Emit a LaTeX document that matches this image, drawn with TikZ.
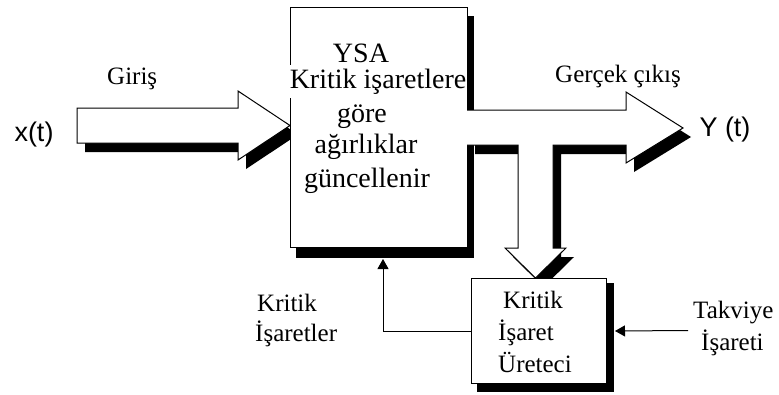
\documentclass[tikz,border=0pt]{standalone}
\usepackage{fontspec}
\setmainfont{Liberation Serif}
\setsansfont{Liberation Sans}
\usetikzlibrary{arrows.meta}

\tikzset{
  outline/.style={draw=black, line width=1pt, line join=miter},
  blockfill/.style={fill=white},
  shadowfill/.style={fill=black},
  blocktext/.style={font=\fontsize{28}{33}\selectfont, inner sep=0pt},
  labeltext/.style={font=\fontsize{25}{30}\selectfont, inner sep=0pt},
  signaltext/.style={font=\sffamily\fontsize{27}{32}\selectfont, inner sep=0pt},
  thinarrow/.style={draw=black, line width=1pt, -{Triangle[length=10pt,width=11pt]}},
}

\begin{document}
\begin{tikzpicture}[x=1pt, y=-1pt]
  \useasboundingbox (0,0) rectangle (779,394);

  % ---- input arrow x(t) -> network ----
  \fill[shadowfill, shift={(8,9)}]
    (77,108) -- (238,108) -- (238,91) -- (290,125.5) -- (238,160) -- (238,143) -- (77,143) -- cycle;
  \path[outline, blockfill]
    (77,108) -- (238,108) -- (238,91) -- (290,125.5) -- (238,160) -- (238,143) -- (77,143) -- cycle;

  % ---- network block with its shadow ----
  \fill[shadowfill] (296,16) rectangle (474,258);
  \node[outline, blockfill, anchor=north west, minimum width=177pt, minimum height=240pt,
        inner sep=0pt] (ysa) at (290,7) {};

  % ---- output arrow with branch down to the critic ----
  \fill[shadowfill, shift={(8,9)}]
    (467,110) -- (626,110) -- (626,92) -- (683,128) -- (626,163) -- (626,145) --
    (553,145) -- (553,248) -- (566,248) -- (535.5,278) -- (505,248) -- (518,248) --
    (518,145) -- (467,145) -- cycle;
  \fill[blockfill]
    (466,110) -- (626,110) -- (626,92) -- (683,128) -- (626,163) -- (626,145) --
    (553,145) -- (553,248) -- (566,248) -- (535.5,278) -- (505,248) -- (518,248) --
    (518,145) -- (466,145) -- cycle;
  \draw[outline]
    (467,110) -- (626,110) -- (626,92) -- (683,128) -- (626,163) -- (626,145) --
    (553,145) -- (553,248) -- (566,248) -- (535.5,278) -- (505,248) -- (518,248) --
    (518,145) -- (467,145);

  % ---- critic block with its shadow ----
  \fill[shadowfill] (477,283) rectangle (614,392);
  \node[outline, blockfill, anchor=north west, minimum width=135pt, minimum height=105pt,
        inner sep=0pt] (critic) at (471,278) {};

  % ---- texts of the network block ----
  \node[blocktext, anchor=base] (ysa1) at (361,62) {YSA};
  \node[blocktext, anchor=base, fill=white, inner xsep=1pt, inner ysep=4pt] (ysa2) at (378,88) {Kritik işaretlere};
  \node[blocktext, anchor=base] (ysa3) at (362,122) {göre};
  \node[blocktext, anchor=base] (ysa4) at (366,153) {ağırlıklar};
  \node[blocktext, anchor=base] (ysa5) at (367,187) {güncellenir};

  % ---- texts of the critic block ----
  \node[labeltext, anchor=base west] (cr1) at (503,308) {Kritik};
  \node[labeltext, anchor=base west] (cr2) at (498,340) {İşaret};
  \node[labeltext, anchor=base west] (cr3) at (498,372) {Üreteci};

  % ---- signal labels ----
  \node[signaltext] (xin) at (34,135) {x(t)};
  \node[signaltext] (yout) at (725,130) {Y (t)};
  \node[labeltext, anchor=base west] (giris) at (107,84) {Giriş};
  \node[labeltext, anchor=base west] (cikis) at (555,82) {Gerçek çıkış};
  \node[labeltext, anchor=base west] (kis1) at (257,311) {Kritik};
  \node[labeltext, anchor=base west] (kis2) at (255,341) {İşaretler};
  \node[labeltext, anchor=base west] (tk1) at (693,318) {Takviye};
  \node[labeltext, anchor=base west] (tk2) at (701,350) {İşareti};

  % ---- thin signal lines ----
  \coordinate (fbtip) at (383,259);
  \draw[thinarrow] (critic.west) -| (fbtip);
  \coordinate (tkv) at (688,330.5);
  \draw[thinarrow] (tkv) -- ([xshift=8pt]critic.east);
\end{tikzpicture}
\end{document}
